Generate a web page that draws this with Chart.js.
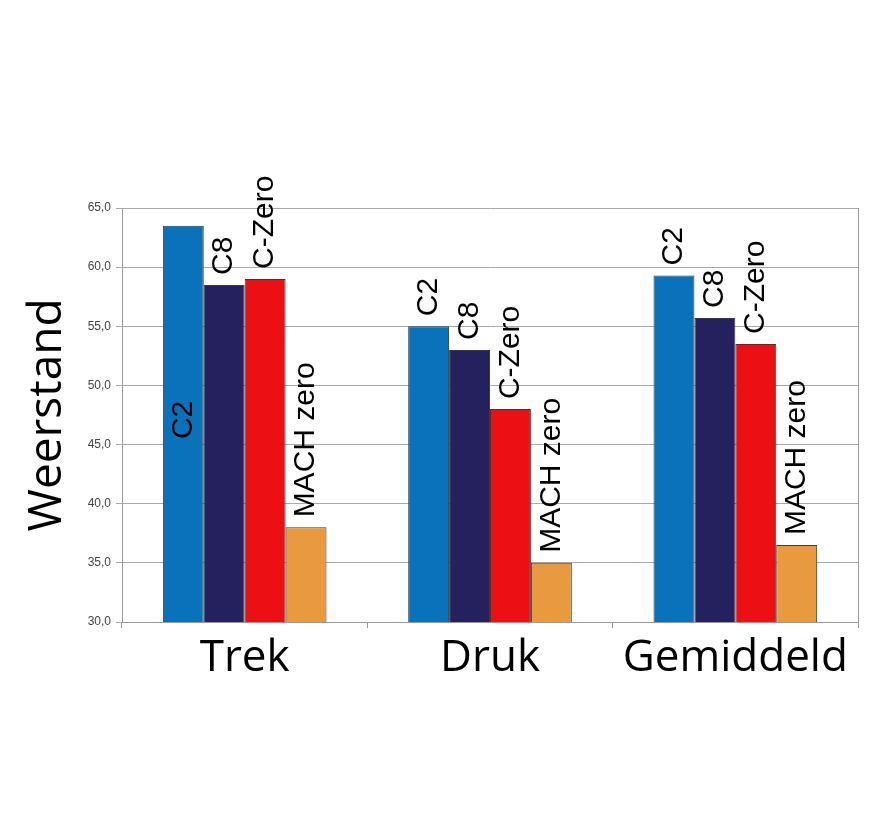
<!DOCTYPE html>
<html>
<head>
<meta charset="utf-8">
<script src="https://cdn.jsdelivr.net/npm/chart.js@4/dist/chart.umd.min.js"></script>
<style>
html,body{margin:0;padding:0;background:#fff;}
#wrap{width:890px;height:820px;position:relative;}
</style>
</head>
<body>
<div id="wrap"><canvas id="c" width="890" height="820"></canvas></div>
<script>
const categories = ['Trek', 'Druk', 'Gemiddeld'];
const seriesNames = ['C2', 'C8', 'C-Zero', 'MACH zero'];
const c2Values = [63.5, 55.0, 59.3];
const c8Values = [58.5, 53.0, 55.7];
const cZeroValues = [59.0, 48.0, 53.5];
const machZeroValues = [38.0, 35.0, 36.5];
const yMin = 30, yMax = 65, yStep = 5;
const yTitle = 'Weerstand';

const colors = ['#0a72bb', '#25205e', '#ec1014', '#e99a3e'];
const seriesValues = [c2Values, c8Values, cZeroValues, machZeroValues];

const labelPlugin = {
  id: 'barLabels',
  afterDatasetsDraw(chart) {
    const ctx = chart.ctx;
    const bottom = chart.scales.y.bottom;
    ctx.save();
    ctx.font = '30px "Liberation Sans", Arial, sans-serif';
    ctx.fillStyle = '#000';
    chart.data.datasets.forEach((ds, di) => {
      const meta = chart.getDatasetMeta(di);
      meta.data.forEach((bar, i) => {
        const name = ds.label;
        ctx.save();
        ctx.translate(bar.x, 0);
        ctx.rotate(-Math.PI / 2);
        ctx.textBaseline = 'middle';
        // C2 of first category is drawn inside the bar
        if (di === 0 && i === 0) {
          const mid = (bar.y + bottom) / 2 - 4;
          ctx.textAlign = 'center';
          ctx.fillText(name, -mid, 0);
        } else {
          ctx.textAlign = 'left';
          ctx.fillText(name, -(bar.y - 10), 0);
        }
        ctx.restore();
      });
    });
    // right border of plot area
    const a = chart.chartArea;
    ctx.strokeStyle = '#999';
    ctx.lineWidth = 1;
    ctx.beginPath();
    ctx.moveTo(Math.round(a.right) + 0.5, a.top);
    ctx.lineTo(Math.round(a.right) + 0.5, a.bottom);
    ctx.stroke();
    ctx.restore();
  }
};

new Chart(document.getElementById('c'), {
  type: 'bar',
  data: {
    labels: categories,
    datasets: seriesNames.map((n, k) => ({
      label: n,
      data: seriesValues[k],
      backgroundColor: colors[k],
      borderColor: '#3a3a3a',
      borderWidth: 1,
      borderSkipped: false,
      categoryPercentage: 0.667,
      barPercentage: 1.0
    }))
  },
  options: {
    responsive: false,
    animation: false,
    devicePixelRatio: 1,
    layout: { padding: { left: 0, top: 208, right: 32, bottom: 0 } },
    plugins: { legend: { display: false }, tooltip: { enabled: false } },
    scales: {
      x: {
        grid: { drawOnChartArea: false, tickLength: 6, color: '#999', offset: true },
        border: { color: '#999' },
        ticks: {
          color: '#000',
          font: { family: '"Open Sans", sans-serif', size: 44 },
          padding: 4
        },
        afterFit(s) { s.height = 198; }
      },
      y: {
        min: yMin, max: yMax,
        ticks: {
          stepSize: yStep,
          color: '#444',
          font: { family: '"Liberation Sans", Arial, sans-serif', size: 12 },
          padding: 5,
          callback: v => v.toFixed(1).replace('.', ',')
        },
        grid: { color: '#aaa', tickLength: 6 },
        border: { color: '#999' },
        title: {
          display: true,
          text: yTitle,
          color: '#000',
          font: { family: '"Open Sans", sans-serif', size: 46 },
          padding: { top: 20, bottom: 10 }
        },
        afterFit(s) { s.width = 122; }
      }
    }
  },
  plugins: [labelPlugin]
});
</script>
</body>
</html>
